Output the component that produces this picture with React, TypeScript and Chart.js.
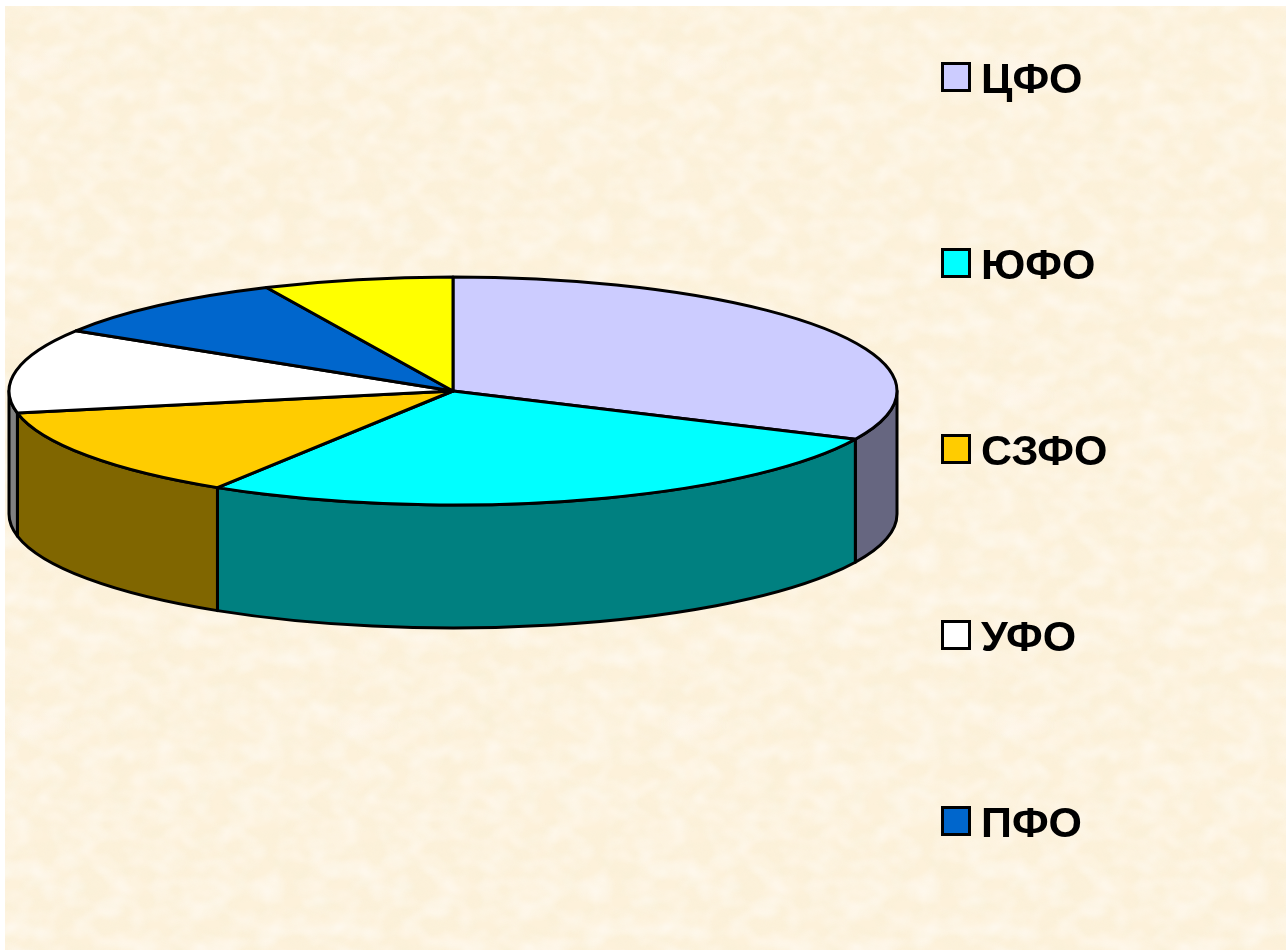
import React, { useEffect, useRef } from "react";
import { Chart, registerables } from "chart.js";

Chart.register(...registerables);

const districts = ["ЦФО", "ЮФО", "СЗФО", "УФО", "ПФО", "СФО"];
const shares = [31.95, 26.95, 13.0, 11.95, 9.25, 6.9];
const topColors = ["#CCCCFF", "#00FFFF", "#FFCC00", "#FFFFFF", "#0066CC", "#FFFF00"];
const wallColors = ["#666680", "#008080", "#806600", "#808080", "#003366", "#808000"];
const legendCount = 5;

const TILT = 114 / 444;
const LIFT = 56;
const DEPTH = 123;
const EDGE = 3;

const pie3d = {
  id: "pie3d",
  beforeDatasetsDraw(chart: any) {
    const ctx = chart.ctx;
    const arcs = chart.getDatasetMeta(0).data;
    ctx.save();
    ctx.lineWidth = EDGE;
    ctx.strokeStyle = "#000";
    ctx.lineJoin = "round";
    arcs.forEach((arc: any, i: number) => {
      const { x, y, startAngle, endAngle, outerRadius } = arc.getProps(["x", "y", "startAngle", "endAngle", "outerRadius"], true);
      const a0 = Math.max(startAngle, 0);
      const a1 = Math.min(endAngle, Math.PI);
      if (a1 <= a0) return;
      const cy = y - LIFT;
      const ry = outerRadius * TILT;
      ctx.beginPath();
      ctx.ellipse(x, cy, outerRadius, ry, 0, a0, a1);
      ctx.ellipse(x, cy + DEPTH, outerRadius, ry, 0, a1, a0, true);
      ctx.closePath();
      ctx.fillStyle = wallColors[i];
      ctx.fill();
      ctx.stroke();
    });
    arcs.forEach((arc: any, i: number) => {
      const { x, y, startAngle, endAngle, outerRadius } = arc.getProps(["x", "y", "startAngle", "endAngle", "outerRadius"], true);
      const cy = y - LIFT;
      ctx.beginPath();
      ctx.moveTo(x, cy);
      ctx.ellipse(x, cy, outerRadius, outerRadius * TILT, 0, startAngle, endAngle);
      ctx.closePath();
      ctx.fillStyle = topColors[i];
      ctx.fill();
      ctx.stroke();
    });
    ctx.restore();
    return false;
  },
  afterDraw(chart: any) {
    const ctx = chart.ctx;
    ctx.save();
    ctx.font = 'bold 43px "Liberation Sans", Arial, sans-serif';
    ctx.textBaseline = "alphabetic";
    ctx.textAlign = "left";
    districts.slice(0, legendCount).forEach((label, i) => {
      const mid = 77 + i * 186;
      ctx.fillStyle = topColors[i];
      ctx.strokeStyle = "#000";
      ctx.lineWidth = EDGE;
      ctx.fillRect(942.5, mid - 13.5, 27, 27);
      ctx.strokeRect(942.5, mid - 13.5, 27, 27);
      ctx.fillStyle = "#000";
      ctx.fillText(label, 981, mid + 15.5);
    });
    ctx.restore();
  },
};

const noiseSvg = `<svg xmlns='http://www.w3.org/2000/svg' width='328' height='330'><filter id='n' x='0' y='0' width='100%' height='100%'><feTurbulence type='fractalNoise' baseFrequency='0.05 0.06' numOctaves='2' seed='7' stitchTiles='stitch'/><feColorMatrix type='matrix' values='0 0 0 0 0.94  0 0 0 0 0.87  0 0 0 0 0.68  1.4 0 0 0 -0.5'/></filter><rect width='328' height='330' filter='url(#n)'/></svg>`;
const lightSvg = `<svg xmlns='http://www.w3.org/2000/svg' width='328' height='330'><filter id='m' x='0' y='0' width='100%' height='100%'><feTurbulence type='fractalNoise' baseFrequency='0.04 0.05' numOctaves='2' seed='21' stitchTiles='stitch'/><feColorMatrix type='matrix' values='0 0 0 0 1  0 0 0 0 0.96  0 0 0 0 0.9  0 1.4 0 0 -0.5'/></filter><rect width='328' height='330' filter='url(#m)'/></svg>`;

const tile = [
  "radial-gradient(ellipse 38px 14px at 32px 60px, rgba(255,248,240,0.7), rgba(255,248,240,0) 100%)",
  `url("data:image/svg+xml,${encodeURIComponent(lightSvg)}")`,
  `url("data:image/svg+xml,${encodeURIComponent(noiseSvg)}")`,
].join(",");

export default function App() {
  const ref = useRef<HTMLCanvasElement>(null);
  useEffect(() => {
    document.body.style.margin = "0";
    const chart = new Chart(ref.current as HTMLCanvasElement, {
      type: "pie",
      data: {
        labels: districts,
        datasets: [{ data: shares, backgroundColor: topColors, borderWidth: 0 }],
      },
      options: {
        responsive: false,
        animation: false,
        layout: { padding: { left: 9, right: 389, top: 3, bottom: 59 } },
        plugins: { legend: { display: false }, tooltip: { enabled: false }, title: { display: false } },
      },
      plugins: [pie3d],
    } as any);
    return () => chart.destroy();
  }, []);
  return (
    <div style={{ position: "absolute", left: 0, top: 0, width: 1286, height: 950, overflow: "hidden", background: "#fff" }}>
      <div
        style={{
          position: "absolute",
          left: 5,
          top: 6,
          right: 0,
          bottom: 0,
          backgroundColor: "#FDF1DA",
          backgroundImage: tile,
          backgroundSize: "328px 330px",
        }}
      />
      <canvas ref={ref} width={1286} height={950} style={{ position: "absolute", left: 0, top: 0 }} />
    </div>
  );
}
